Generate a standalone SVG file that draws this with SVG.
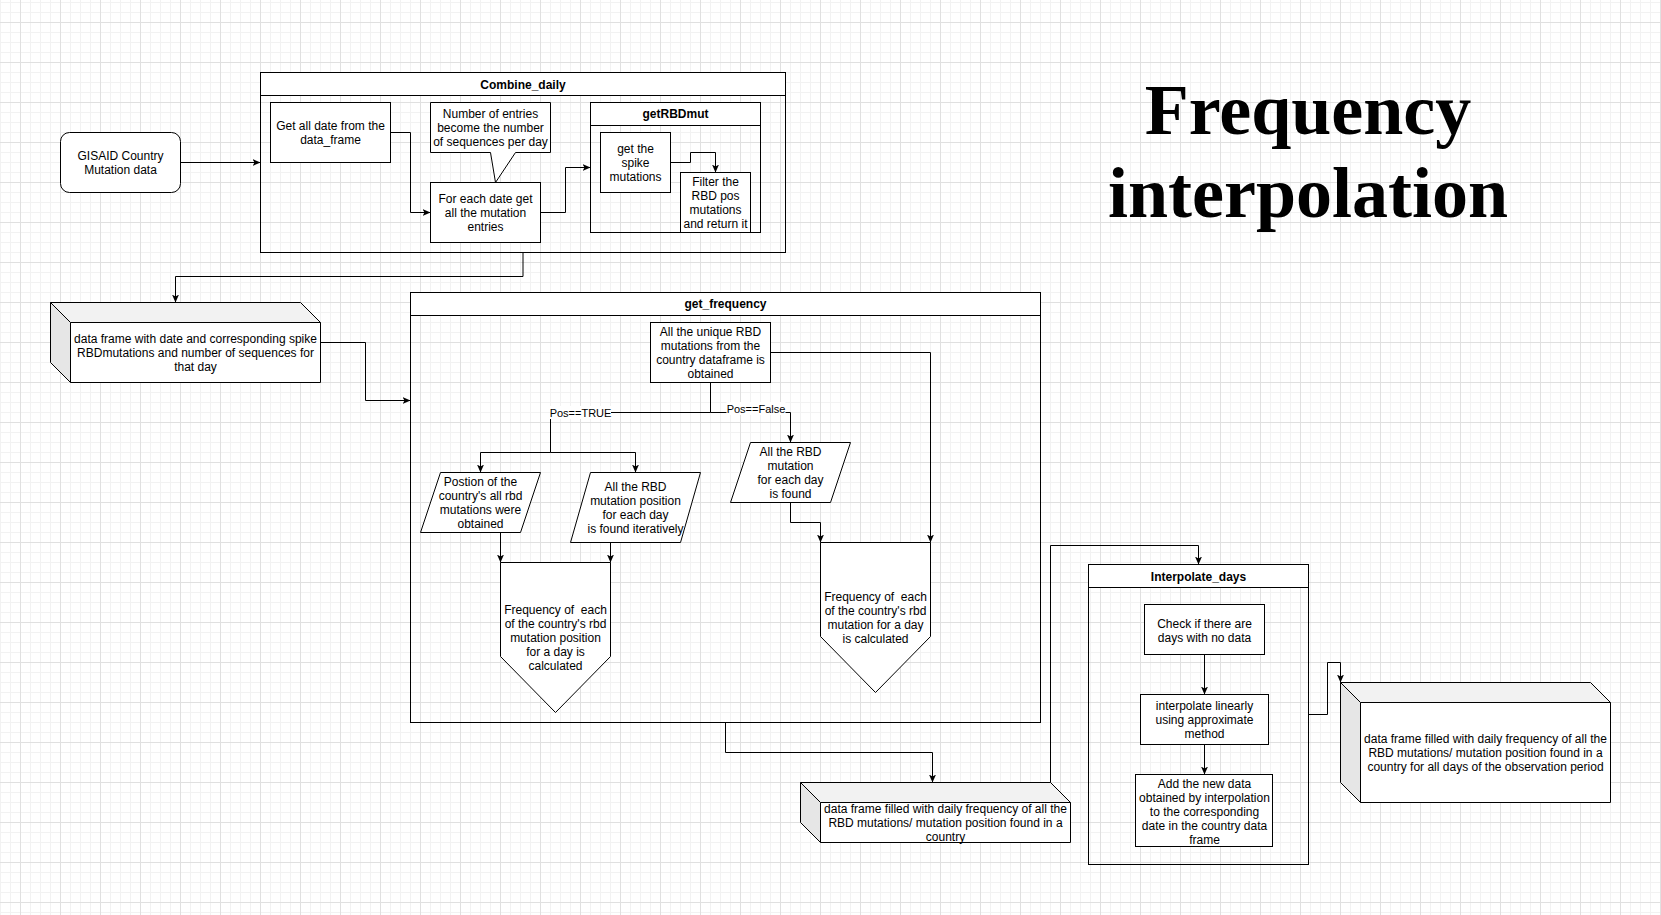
<svg xmlns="http://www.w3.org/2000/svg" width="1661" height="915" viewBox="0 0 1661 915">
<defs>
<pattern id="gMinor" width="10" height="10" patternUnits="userSpaceOnUse" x="0" y="2">
<path d="M0.5 0 V10 M0 0.5 H10" fill="none" stroke="#f2f2f2" stroke-width="1"/>
</pattern>
<pattern id="gMajor" width="40" height="40" patternUnits="userSpaceOnUse" x="20" y="22">
<path d="M0.5 0 V40 M0 0.5 H40" fill="none" stroke="#e0e0e0" stroke-width="1"/>
</pattern>
<marker id="arr" viewBox="0 0 8 8" refX="8" refY="4" markerWidth="8" markerHeight="8" markerUnits="userSpaceOnUse" orient="auto">
<path d="M0,0.5 L8,4 L0,7.5 L2,4 z" fill="#000"/>
</marker>
<style>
.n{fill:#fff;stroke:#000;stroke-width:1}
.c{fill:none;stroke:#000;stroke-width:1}
.e{fill:none;stroke:#000;stroke-width:1;marker-end:url(#arr)}
.l{fill:none;stroke:#000;stroke-width:1}
.t{font-family:'Liberation Sans',Arial,Helvetica,sans-serif;font-size:12px;text-anchor:middle;dominant-baseline:central;fill:#000;white-space:pre}
.b{font-weight:bold}
.el{font-family:'Liberation Sans',Arial,Helvetica,sans-serif;font-size:11px;text-anchor:middle;dominant-baseline:central;fill:#000}
.top{fill:#f2f2f2;stroke:none}
.side{fill:#e6e6e6;stroke:none}
.title{font-family:'Liberation Serif','Times New Roman',serif;font-size:72px;font-weight:bold;text-anchor:middle;fill:#000}
</style>
</defs>
<rect x="0" y="0" width="1661" height="915" fill="#fff"/>
<rect x="0" y="0" width="1661" height="915" fill="url(#gMinor)"/>
<rect x="0" y="0" width="1661" height="915" fill="url(#gMajor)"/>

<g id="title">
<text class="title" x="1308" y="133.5">Frequency</text>
<text class="title" x="1308" y="216.5">interpolation</text>
</g>

<g id="gisaid">
<rect class="n" x="60.5" y="132.5" width="120" height="60" rx="9" ry="9"/>
<text class="t"><tspan x="120.5" y="155.5">GISAID Country</tspan><tspan x="120.5" y="169.5">Mutation data</tspan></text>
</g>

<g id="combine_daily">
<rect class="c" x="260.5" y="72.5" width="525" height="180"/>
<rect class="n" x="260.5" y="72.5" width="525" height="23"/>
<text class="t b" x="523" y="84.5">Combine_daily</text>
</g>

<g id="get_all_date">
<rect class="n" x="270.5" y="102.5" width="120" height="60"/>
<text class="t"><tspan x="330.5" y="125.5">Get all date from the</tspan><tspan x="330.5" y="139.5">data_frame</tspan></text>
</g>

<g id="callout_entries">
<polygon class="n" points="430.5,102.5 550.5,102.5 550.5,152.5 515.5,152.5 495.5,182.5 490.5,152.5 430.5,152.5"/>
<text class="t"><tspan x="490.5" y="113.5">Number of entries</tspan><tspan x="490.5" y="127.5">become the number</tspan><tspan x="490.5" y="141.5">of sequences per day</tspan></text>
</g>

<g id="for_each_date">
<rect class="n" x="430.5" y="182.5" width="110" height="60"/>
<text class="t"><tspan x="485.5" y="198.5">For each date get</tspan><tspan x="485.5" y="212.5">all the mutation</tspan><tspan x="485.5" y="226.5">entries</tspan></text>
</g>

<g id="getRBDmut">
<rect class="c" x="590.5" y="102.5" width="170" height="130"/>
<rect class="n" x="590.5" y="102.5" width="170" height="23"/>
<text class="t b" x="675.5" y="114">getRBDmut</text>
</g>

<g id="spike">
<rect class="n" x="600.5" y="132.5" width="70" height="60"/>
<text class="t"><tspan x="635.5" y="148.5">get the</tspan><tspan x="635.5" y="162.5">spike</tspan><tspan x="635.5" y="176.5">mutations</tspan></text>
</g>

<g id="filter_rbd">
<rect class="n" x="680.5" y="172.5" width="70" height="60"/>
<text class="t"><tspan x="715.5" y="181.5">Filter the</tspan><tspan x="715.5" y="195.5">RBD pos</tspan><tspan x="715.5" y="209.5">mutations</tspan><tspan x="715.5" y="223.5">and return it</tspan></text>
</g>

<g id="df_daily">
<polygon class="top" points="50.5,302.5 300.5,302.5 320.5,322.5 70.5,322.5"/>
<polygon class="side" points="50.5,302.5 70.5,322.5 70.5,382.5 50.5,362.5"/>
<rect x="70.5" y="322.5" width="250" height="60" fill="#fff"/>
<path class="l" d="M50.5,302.5 L300.5,302.5 L320.5,322.5 L320.5,382.5 L70.5,382.5 L50.5,362.5 Z M50.5,302.5 L70.5,322.5 L320.5,322.5 M70.5,322.5 L70.5,382.5"/>
<text class="t"><tspan x="195.5" y="338.5">data frame with date and corresponding spike</tspan><tspan x="195.5" y="352.5">RBDmutations and number of sequences for</tspan><tspan x="195.5" y="366.5">that day</tspan></text>
</g>

<g id="get_frequency">
<rect class="c" x="410.5" y="292.5" width="630" height="430"/>
<rect class="n" x="410.5" y="292.5" width="630" height="23"/>
<text class="t b" x="725.5" y="304">get_frequency</text>
</g>

<g id="unique_rbd">
<rect class="n" x="650.5" y="322.5" width="120" height="60"/>
<text class="t"><tspan x="710.5" y="331.5">All the unique RBD</tspan><tspan x="710.5" y="345.5">mutations from the</tspan><tspan x="710.5" y="359.5">country dataframe is</tspan><tspan x="710.5" y="373.5">obtained</tspan></text>
</g>

<g id="position_obtained">
<polygon class="n" points="440.5,472.5 540.5,472.5 520.5,532.5 420.5,532.5"/>
<text class="t"><tspan x="480.5" y="481.5">Postion of the</tspan><tspan x="480.5" y="495.5">country's all rbd</tspan><tspan x="480.5" y="509.5">mutations were</tspan><tspan x="480.5" y="523.5">obtained</tspan></text>
</g>

<g id="position_each_day">
<polygon class="n" points="590.5,472.5 700.5,472.5 680.5,542.5 570.5,542.5"/>
<text class="t"><tspan x="635.5" y="486.5">All the RBD</tspan><tspan x="635.5" y="500.5">mutation position</tspan><tspan x="635.5" y="514.5">for each day</tspan><tspan x="635.5" y="528.5">is found iteratively</tspan></text>
</g>

<g id="mutation_each_day">
<polygon class="n" points="750.5,442.5 850.5,442.5 830.5,502.5 730.5,502.5"/>
<text class="t"><tspan x="790.5" y="451.5">All the RBD</tspan><tspan x="790.5" y="465.5">mutation</tspan><tspan x="790.5" y="479.5">for each day</tspan><tspan x="790.5" y="493.5">is found</tspan></text>
</g>

<g id="freq_position">
<polygon class="n" points="500.5,562.5 610.5,562.5 610.5,656.5 555.5,712.5 500.5,656.5"/>
<text class="t"><tspan x="555.5" y="610">Frequency of  each</tspan><tspan x="555.5" y="624">of the country's rbd</tspan><tspan x="555.5" y="638">mutation position</tspan><tspan x="555.5" y="652">for a day is</tspan><tspan x="555.5" y="666">calculated</tspan></text>
</g>

<g id="freq_mutation">
<polygon class="n" points="820.5,542.5 930.5,542.5 930.5,636.5 875.5,692.5 820.5,636.5"/>
<text class="t"><tspan x="875.5" y="597">Frequency of  each</tspan><tspan x="875.5" y="611">of the country's rbd</tspan><tspan x="875.5" y="625">mutation for a day</tspan><tspan x="875.5" y="639">is calculated</tspan></text>
</g>

<g id="df_frequency">
<polygon class="top" points="800.5,782.5 1050.5,782.5 1070.5,802.5 820.5,802.5"/>
<polygon class="side" points="800.5,782.5 820.5,802.5 820.5,842.5 800.5,822.5"/>
<rect x="820.5" y="802.5" width="250" height="40" fill="#fff"/>
<path class="l" d="M800.5,782.5 L1050.5,782.5 L1070.5,802.5 L1070.5,842.5 L820.5,842.5 L800.5,822.5 Z M800.5,782.5 L820.5,802.5 L1070.5,802.5 M820.5,802.5 L820.5,842.5"/>
<text class="t"><tspan x="945.5" y="808.5">data frame filled with daily frequency of all the</tspan><tspan x="945.5" y="822.5">RBD mutations/ mutation position found in a</tspan><tspan x="945.5" y="836.5">country</tspan></text>
</g>

<g id="interpolate_days">
<rect class="c" x="1088.5" y="564.5" width="220" height="300"/>
<rect class="n" x="1088.5" y="564.5" width="220" height="23"/>
<text class="t b" x="1198.5" y="576.5">Interpolate_days</text>
</g>

<g id="check_days">
<rect class="n" x="1144.5" y="604.5" width="120" height="50"/>
<text class="t"><tspan x="1204.5" y="623.5">Check if there are</tspan><tspan x="1204.5" y="637.5">days with no data</tspan></text>
</g>

<g id="interpolate_linear">
<rect class="n" x="1140.5" y="694.5" width="128" height="50"/>
<text class="t"><tspan x="1204.5" y="706">interpolate linearly</tspan><tspan x="1204.5" y="720">using approximate</tspan><tspan x="1204.5" y="734">method</tspan></text>
</g>

<g id="add_data">
<rect class="n" x="1135.5" y="774.5" width="137" height="72"/>
<text class="t"><tspan x="1204.5" y="783.5">Add the new data</tspan><tspan x="1204.5" y="797.5">obtained by interpolation</tspan><tspan x="1204.5" y="811.5">to the corresponding</tspan><tspan x="1204.5" y="825.5">date in the country data</tspan><tspan x="1204.5" y="839.5">frame</tspan></text>
</g>

<g id="df_final">
<polygon class="top" points="1340.5,682.5 1590.5,682.5 1610.5,702.5 1360.5,702.5"/>
<polygon class="side" points="1340.5,682.5 1360.5,702.5 1360.5,802.5 1340.5,782.5"/>
<rect x="1360.5" y="702.5" width="250" height="100" fill="#fff"/>
<path class="l" d="M1340.5,682.5 L1590.5,682.5 L1610.5,702.5 L1610.5,802.5 L1360.5,802.5 L1340.5,782.5 Z M1340.5,682.5 L1360.5,702.5 L1610.5,702.5 M1360.5,702.5 L1360.5,802.5"/>
<text class="t"><tspan x="1485.5" y="739">data frame filled with daily frequency of all the</tspan><tspan x="1485.5" y="753">RBD mutations/ mutation position found in a</tspan><tspan x="1485.5" y="767">country for all days of the observation period</tspan></text>
</g>

<g id="connectors">
<path class="e" d="M180.5,162.5 L260.5,162.5"/>
<path class="e" d="M390.5,132.5 L410.5,132.5 L410.5,212.5 L430.5,212.5"/>
<path class="e" d="M540.5,212.5 L565.5,212.5 L565.5,167.5 L590.5,167.5"/>
<path class="e" d="M670.5,162.5 L690.5,162.5 L690.5,152.5 L715.5,152.5 L715.5,172.5"/>
<path class="e" d="M523,252.5 L523,276.5 L175.5,276.5 L175.5,302.5"/>
<path class="e" d="M320.5,342.5 L365.5,342.5 L365.5,400.5 L410.5,400.5"/>
<path class="l" d="M710.5,382.5 L710.5,412.5 L550.5,412.5 L550.5,452.5"/>
<path class="e" d="M550.5,452.5 L480.5,452.5 L480.5,472.5"/>
<path class="e" d="M550.5,452.5 L635.5,452.5 L635.5,472.5"/>
<path class="e" d="M710.5,412.5 L790.5,412.5 L790.5,442.5"/>
<path class="e" d="M770.5,352.5 L930.5,352.5 L930.5,542.5"/>
<path class="e" d="M500.5,532.5 L500.5,562.5"/>
<path class="e" d="M610.5,542.5 L610.5,562.5"/>
<path class="e" d="M790.5,502.5 L790.5,522.5 L820.5,522.5 L820.5,542.5"/>
<path class="e" d="M725.5,722.5 L725.5,752.5 L932.5,752.5 L932.5,782.5"/>
<path class="e" d="M1050.5,782.5 L1050.5,545.5 L1198.5,545.5 L1198.5,564.5"/>
<path class="e" d="M1204.5,654.5 L1204.5,694.5"/>
<path class="e" d="M1204.5,744.5 L1204.5,774.5"/>
<path class="e" d="M1308.5,714.5 L1327.5,714.5 L1327.5,662.5 L1340.5,662.5 L1340.5,682.5"/>
<rect x="550" y="406" width="61" height="13" fill="#fff"/>
<text class="el" x="580.5" y="412.5">Pos==TRUE</text>
<rect x="726.5" y="402" width="59" height="13" fill="#fff"/>
<text class="el" x="756" y="408.5">Pos==False</text>
</g>
</svg>
